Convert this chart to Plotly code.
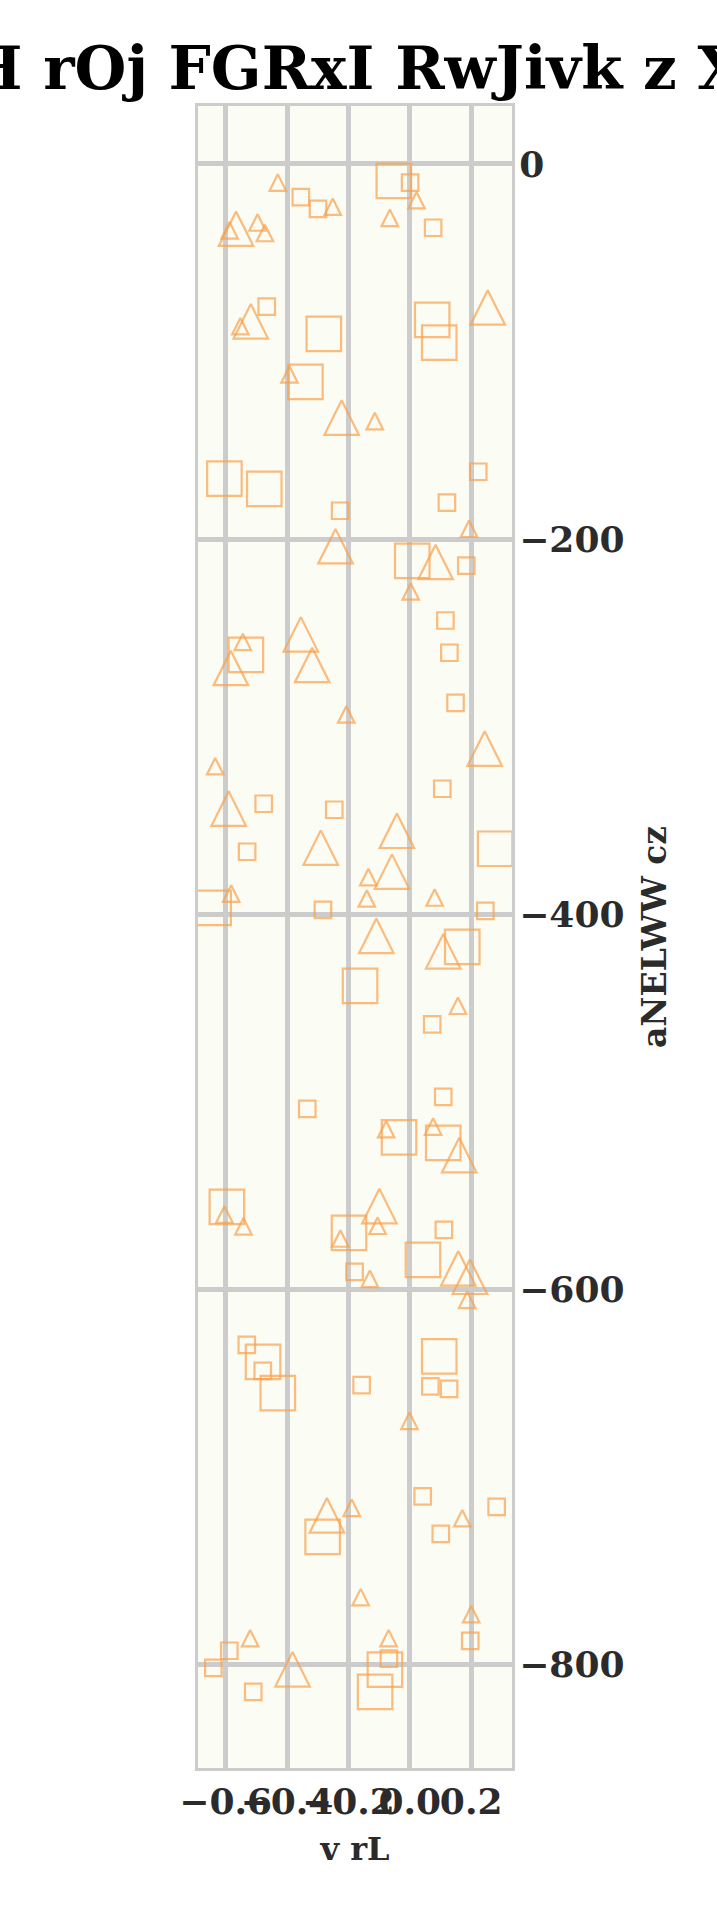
import plotly.graph_objects as go

# ---- data ----
sq_x = [-0.052, 0.001, -0.355, -0.299, 0.076, -0.466, -0.280, 0.073, 0.096, -0.340,
        -0.604, -0.474, -0.227, 0.121, 0.223, 0.008, 0.184, 0.116, 0.129, -0.534,
        0.149, 0.106, -0.476, -0.246, -0.530, 0.278, -0.639, -0.283, 0.246, 0.171,
        -0.162, 0.073, 0.109, -0.334, -0.035, 0.109, -0.596, -0.198, 0.111, 0.043,
        -0.180, -0.531, -0.478, -0.479, -0.430, 0.096, -0.157, 0.067, 0.128, 0.042,
        0.283, 0.101, -0.284, 0.197, -0.588, -0.640, -0.510, -0.081, -0.068, -0.113]
sq_y = [-9.0, -10.0, -17.7, -23.9, -34.0, -76.1, -90.6, -83.1, -95.3, -116.2,
        -167.8, -173.2, -184.9, -180.6, -164.1, -211.6, -214.2, -243.4, -260.6, -261.7,
        -287.3, -333.1, -341.1, -344.3, -366.7, -365.1, -396.6, -397.7, -398.2, -417.4,
        -438.2, -458.7, -497.4, -503.8, -519.0, -521.9, -556.0, -569.9, -568.3, -584.3,
        -590.7, -629.6, -638.7, -643.5, -655.3, -635.7, -651.1, -651.7, -653.1, -710.4,
        -716.0, -730.4, -732.0, -787.4, -792.7, -801.8, -814.6, -802.8, -796.9, -814.6]
sq_grp = ["L", "S", "S", "S", "S", "S", "L", "L", "L", "L",
          "L", "L", "S", "S", "S", "L", "S", "S", "S", "L",
          "S", "S", "S", "S", "S", "L", "L", "S", "S", "L",
          "L", "S", "S", "S", "L", "L", "L", "L", "S", "L",
          "S", "S", "L", "S", "L", "L", "S", "S", "S", "S",
          "S", "S", "L", "S", "S", "S", "S", "L", "S", "L"]

tri_x = [-0.430, -0.566, -0.587, -0.496, -0.472, -0.251, 0.022, -0.065, 0.254, -0.518,
         -0.552, -0.392, -0.222, -0.114, 0.193, -0.242, 0.084, 0.003, -0.544, -0.583,
         -0.355, -0.318, -0.207, 0.244, -0.634, -0.590, -0.290, -0.042, -0.058, -0.135,
         -0.140, 0.081, -0.582, -0.109, 0.109, 0.157, -0.077, 0.076, 0.161, -0.099,
         -0.105, -0.604, -0.542, -0.226, -0.130, 0.158, 0.196, 0.187, -0.001, -0.270,
         -0.189, 0.171, -0.160, 0.200, -0.520, -0.069, -0.382]
tri_y = [-9.9, -34.5, -35.4, -31.2, -36.8, -22.8, -19.3, -28.7, -76.5, -83.9,
         -86.5, -112.2, -135.2, -137.1, -194.5, -203.8, -212.2, -227.9, -254.8, -268.7,
         -250.8, -267.1, -293.5, -311.7, -321.1, -343.7, -364.5, -355.5, -377.3, -380.2,
         -391.6, -391.1, -389.0, -411.5, -419.8, -448.8, -514.6, -513.2, -528.4, -555.6,
         -566.1, -560.1, -566.4, -572.9, -594.4, -588.8, -593.3, -605.6, -670.1, -720.5,
         -716.5, -722.0, -764.1, -773.2, -786.0, -786.0, -802.6]
tri_grp = ["S", "L", "S", "S", "S", "S", "S", "S", "L", "L",
           "S", "S", "L", "S", "S", "L", "L", "S", "S", "L",
           "L", "L", "S", "L", "S", "L", "L", "L", "L", "S",
           "S", "S", "S", "L", "L", "S", "S", "S", "L", "L",
           "S", "S", "S", "S", "S", "L", "L", "S", "S", "L",
           "S", "S", "S", "S", "S", "S", "L"]

x_ticks = [-0.6, -0.4, -0.2, 0.0, 0.2]
y_ticks = [0, -200, -400, -600, -800]

title_text = "H rOj FGRxI RwJivk z X"
x_title = "v rL"
y_title = "aNELWW cz"

# ---- styling ----
SIZE = {"S": 16.5, "L": 34.5}
ORANGE = "#fa9f4a"
FONT = "DejaVu Serif"
TXT = "#2b2b2b"

fig = go.Figure()

fig.add_trace(go.Scatter(
    x=sq_x, y=sq_y, mode="markers",
    marker=dict(symbol="square-open", size=[SIZE[g] for g in sq_grp],
                color=ORANGE, line=dict(color=ORANGE, width=2.2)),
    showlegend=False, hoverinfo="x+y",
))

tri_sizes = [SIZE[g] for g in tri_grp]
fig.add_trace(go.Scatter(
    x=tri_x, y=tri_y, mode="markers",
    marker=dict(symbol="arrow-down-open", size=tri_sizes, angle=180,
                standoff=[s / 2 for s in tri_sizes],
                color=ORANGE, line=dict(color=ORANGE, width=2.2)),
    showlegend=False, hoverinfo="x+y",
))

axis_common = dict(
    showgrid=True, gridcolor="#cccccc", gridwidth=5,
    zeroline=False, showline=True, mirror=True,
    linecolor="#cccccc", linewidth=3, ticks="",
    tickfont=dict(family=FONT, size=36, color=TXT, weight="bold"),
    automargin=False,
)

fig.update_layout(
    width=717, height=1912,
    margin=dict(l=198, r=205, t=106, b=144, pad=0),
    paper_bgcolor="white", plot_bgcolor="#fbfcf4",
    title=dict(text=title_text, x=0.5, xanchor="center", xref="paper",
               y=1 - 68 / 1912, yanchor="middle", yref="container",
               font=dict(family=FONT, size=59.5, color="black", weight="bold")),
    xaxis=dict(range=[-0.69, 0.333], tickvals=x_ticks, tickformat=".1f",
               tickangle=0,
               title=dict(text=x_title, standoff=17,
                          font=dict(family=FONT, size=32, color=TXT, weight="bold")),
               **axis_common),
    yaxis=dict(range=[-855.2, 30.9], tickvals=y_ticks, side="right",
               ticklabelstandoff=-3,
               title=dict(text=y_title, standoff=20,
                          font=dict(family=FONT, size=33, color=TXT, weight="bold")),
               **axis_common),
)

fig.write_html("out.html")
